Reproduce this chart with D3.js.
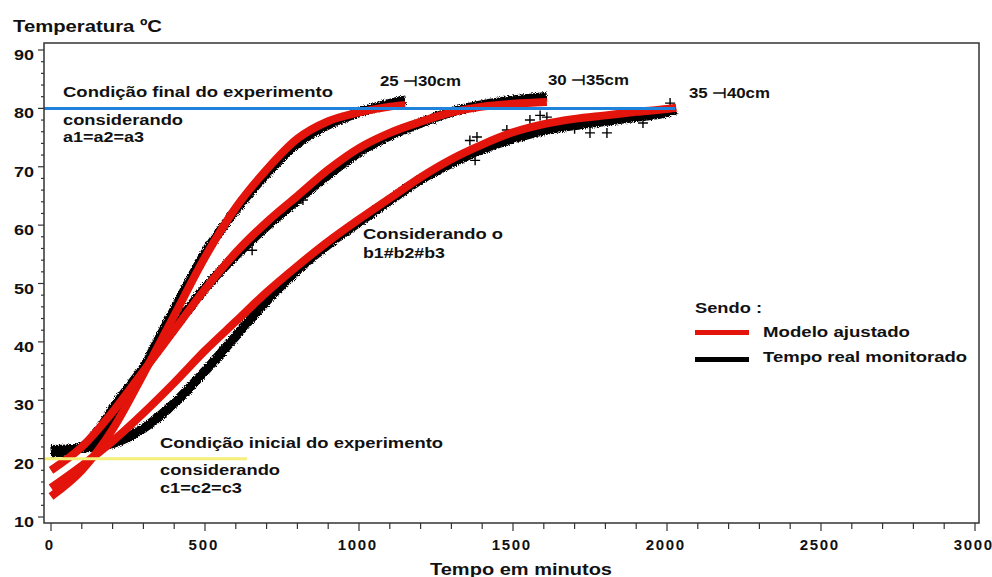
<!DOCTYPE html>
<html><head><meta charset="utf-8">
<script src="https://cdn.jsdelivr.net/npm/d3@7"></script>
<style>
body{margin:0;background:#fff}
text{font-family:"Liberation Sans",Arial,sans-serif;font-weight:bold;fill:#111}
</style>
</head><body>
<svg id="chart" width="992" height="577"></svg>
<script>
// ---------- data ----------
const xTicks = [0, 500, 1000, 1500, 2000, 2500, 3000];
const yTicks = [10, 20, 30, 40, 50, 60, 70, 80, 90];
const seriesLabels = ["25 \u22A330cm", "30 \u22A335cm", "35 \u22A340cm"];

// fitted model (red)
const model25_30 = [[0,13.5],[100,18],[200,25],[300,34.5],[400,44.5],[500,54.5],[600,63],[700,69.5],[800,74.8],[900,77.8],[1000,79.3],[1100,80.3],[1150,80.6]];
const model30_35 = [[0,18],[100,22],[200,28],[300,35],[400,42],[500,49],[600,55.3],[700,60.5],[800,65],[900,69.5],[1000,73.2],[1100,75.8],[1200,77.7],[1300,79.3],[1400,80.3],[1500,80.8],[1610,81.1]];
const model35_40 = [[0,15],[100,18.8],[200,23],[300,27.8],[400,33],[500,38.5],[600,43.5],[700,48.5],[800,53],[900,57.2],[1000,61],[1100,64.6],[1200,68.2],[1300,71.3],[1400,73.8],[1500,75.9],[1600,77.3],[1700,78.2],[1800,78.8],[1900,79.4],[2000,79.9],[2030,80.1]];

// monitored data (black)
const obs25_30 = [[0,21],[50,21.2],[100,21.8],[150,23.5],[200,26.5],[250,31],[300,35.5],[350,40.5],[400,45.5],[450,50.5],[500,55.2],[600,62.6],[700,68.8],[800,74],[900,77.2],[1000,79.3],[1100,80.8],[1150,81.4]];
const obs30_35 = [[0,21],[100,22],[150,24.5],[200,28.5],[300,35.5],[400,42.5],[500,49.2],[600,54.8],[700,59.8],[800,64.3],[900,68.6],[1000,72.5],[1100,75.3],[1200,77.5],[1300,79.4],[1400,80.6],[1500,81.4],[1610,82]];
const obs35_40 = [[0,21.5],[100,21.8],[200,22.6],[300,25.2],[400,29.5],[500,35],[600,41],[700,47],[800,52.3],[900,56.7],[1000,60.5],[1100,64.2],[1200,67.8],[1300,70.6],[1400,73],[1500,74.8],[1600,76.2],[1700,77.1],[1800,77.8],[1900,78.5],[2000,79.3],[2030,79.8]];

// scattered monitored points shown as "+"
const outliers = [[653,55.7],[818,64.3],[1360,74.5],[1377,71.1],[1383,75.1],[1480,76.3],[1555,78],[1588,78.8],[1610,78.5],[1650,77],[1700,76.5],[1750,75.8],[1805,75.8],[1922,77.5],[2010,80.9]];

const finalTemp = 80, initialTemp = 20;

// ---------- layout ----------
const svg = d3.select("#chart");
const frame = {l:44, t:43, r:979, b:523};
const x = d3.scaleLinear().domain([0,3000]).range([51,975]);
const y = d3.scaleLinear().domain([10,90]).range([517,50]);

svg.append("defs").html(`
<clipPath id="clip"><rect x="${frame.l}" y="${frame.t}" width="${frame.r-frame.l}" height="${frame.b-frame.t}"/></clipPath>
<filter id="rough" x="-5%" y="-5%" width="110%" height="110%">
<feTurbulence type="fractalNoise" baseFrequency="0.9" numOctaves="1" seed="4" result="n"/>
<feDisplacementMap in="SourceGraphic" in2="n" scale="5" xChannelSelector="R" yChannelSelector="G"/>
</filter>`);

const line = d3.line().x(d=>x(d[0])).y(d=>y(d[1])).curve(d3.curveMonotoneX);
const g = svg.append("g").attr("clip-path","url(#clip)");

// black observed
[obs25_30, obs30_35, obs35_40].forEach(s=>{
  g.append("path").datum(s).attr("d",line).attr("fill","none")
   .attr("stroke","#000").attr("stroke-width",9.5).attr("filter","url(#rough)");
});
// plus markers
g.selectAll("path.plus").data(outliers).join("path").attr("class","plus")
  .attr("d",d=>{const px=x(d[0]),py=y(d[1]);return `M${px-5},${py}H${px+5}M${px},${py-5}V${py+5}`;})
  .attr("stroke","#000").attr("stroke-width",1.4);
// red model
[model25_30, model30_35, model35_40].forEach(s=>{
  g.append("path").datum(s).attr("d",line).attr("fill","none")
   .attr("stroke","#e3140c").attr("stroke-width",8);
});
// reference lines
g.append("line").attr("x1",frame.l).attr("x2",x(2026)).attr("y1",y(finalTemp)).attr("y2",y(finalTemp))
  .attr("stroke","#1f83dc").attr("stroke-width",3);
g.append("line").attr("x1",frame.l).attr("x2",x(636)).attr("y1",y(initialTemp)).attr("y2",y(initialTemp))
  .attr("stroke","#f4ef7a").attr("stroke-width",3);

// frame
svg.append("rect").attr("x",frame.l).attr("y",frame.t).attr("width",frame.r-frame.l).attr("height",frame.b-frame.t)
  .attr("fill","none").attr("stroke","#333").attr("stroke-width",1.5);

// y ticks
svg.append("g").selectAll("line").data(d3.range(10,91,2)).join("line")
  .attr("x1",d=>yTicks.includes(d)?38:41).attr("x2",frame.l).attr("y1",d=>y(d)).attr("y2",d=>y(d))
  .attr("stroke","#333").attr("stroke-width",1.2);
svg.append("g").selectAll("text").data(yTicks).join("text")
  .attr("x",34).attr("y",d=>y(d)+10).attr("text-anchor","end").attr("font-size",15)
  .attr("textLength",20).attr("lengthAdjust","spacingAndGlyphs").text(d=>d);
// x ticks
svg.append("g").selectAll("line").data(d3.range(0,3001,100)).join("line")
  .attr("x1",d=>x(d)).attr("x2",d=>x(d)).attr("y1",frame.b).attr("y2",d=>xTicks.includes(d)?531:529)
  .attr("stroke","#333").attr("stroke-width",1.2);
svg.append("g").selectAll("text").data(xTicks).join("text")
  .attr("x",d=>x(d)-2).attr("y",550).attr("text-anchor","middle").attr("font-size",15)
  .each(function(d){const s=String(d); if(s.length>1) d3.select(this).attr("textLength",9.6*s.length);})
  .text(d=>d);

// texts
function txt(s,xp,yp,size,len){
  const t=svg.append("text").attr("x",xp).attr("y",yp).attr("font-size",size).text(s);
  if(len) t.attr("textLength",len).attr("lengthAdjust","spacingAndGlyphs");
  return t;
}
txt("Temperatura \u00BAC",13,32,17,149);
txt("Tempo em minutos",430,575,16,182);
txt("Condição final do experimento",63,97,14,270);
txt("considerando",63,125,14,120);
txt("a1=a2=a3",63,142,14,81);
txt(seriesLabels[0],380,86,14,81);
txt(seriesLabels[1],548,85,14,81);
txt(seriesLabels[2],689,98,14,81);
txt("Considerando o",363,239,14,140);
txt("b1#b2#b3",363,258,14,82);
txt("Condição inicial do experimento",160,448,14,283);
txt("considerando",160,475,14,120);
txt("c1=c2=c3",160,493,14,82);

// legend
txt("Sendo :",695,313,14,67);
svg.append("line").attr("x1",695).attr("x2",749).attr("y1",332.5).attr("y2",332.5).attr("stroke","#e3140c").attr("stroke-width",5);
txt("Modelo ajustado",763,337,14,147);
svg.append("line").attr("x1",695).attr("x2",749).attr("y1",359.5).attr("y2",359.5).attr("stroke","#000").attr("stroke-width",5);
txt("Tempo real monitorado",763,362,14,204);
</script>
</body></html>
